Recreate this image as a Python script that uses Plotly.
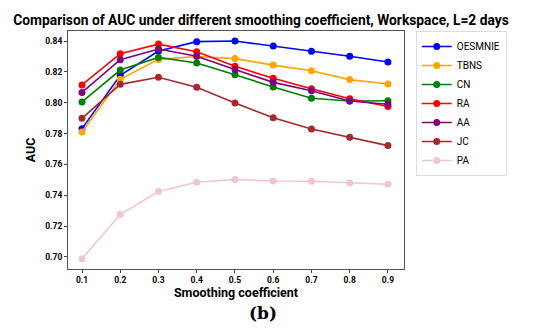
import plotly.graph_objects as go

x_vals = [0.1, 0.2, 0.3, 0.4, 0.5, 0.6, 0.7, 0.8, 0.9]
series_names = ["OESMNIE", "TBNS", "CN", "RA", "AA", "JC", "PA"]
oesmnie = [0.7832, 0.8178, 0.8335, 0.8396, 0.8400, 0.8368, 0.8333, 0.8301, 0.8264]
tbns = [0.7810, 0.8152, 0.8281, 0.8300, 0.8286, 0.8244, 0.8207, 0.8150, 0.8121]
cn = [0.8005, 0.8212, 0.8294, 0.8257, 0.8182, 0.8102, 0.8029, 0.8011, 0.8013]
ra = [0.8115, 0.8318, 0.8380, 0.8331, 0.8236, 0.8158, 0.8091, 0.8026, 0.7975]
aa = [0.8067, 0.8279, 0.8348, 0.8301, 0.8216, 0.8132, 0.8078, 0.8011, 0.7990]
jc = [0.7899, 0.8119, 0.8165, 0.8100, 0.7998, 0.7903, 0.7830, 0.7776, 0.7722]
pa = [0.6989, 0.7275, 0.7424, 0.7484, 0.7502, 0.7493, 0.7491, 0.7480, 0.7471]
series_values = [oesmnie, tbns, cn, ra, aa, jc, pa]
colors = ["#0000ff", "#ffa500", "#008000", "#ff0000", "#800080", "#a52a2a", "#f0c6cc"]
y_ticks = [0.70, 0.72, 0.74, 0.76, 0.78, 0.80, 0.82, 0.84]

FONT = "Roboto, DejaVu Sans"

fig = go.Figure()
for name, vals, col in zip(series_names, series_values, colors):
    fig.add_trace(go.Scatter(
        x=x_vals, y=vals, name=name, mode="lines+markers",
        line=dict(color=col, width=1.6),
        marker=dict(color=col, size=7),
    ))

fig.update_layout(
    width=550, height=331,
    paper_bgcolor="white", plot_bgcolor="white",
    margin=dict(l=68, r=146, t=31, b=62),
    title=dict(text="<b>Comparison of AUC under different smoothing coefficient, Workspace, L=2 days</b>",
               x=261 / 550, xanchor="center", y=1 - 20 / 331, yanchor="middle",
               font=dict(family=FONT, size=13.8, color="black")),
    font=dict(family=FONT, color="black"),
    legend=dict(x=1.035, xanchor="left", y=1.0, yanchor="top",
                bordercolor="#dddddd", borderwidth=1,
                font=dict(family=FONT, size=10, color="black"),
                itemwidth=30),
    xaxis=dict(range=[0.0634, 0.942], tickvals=x_vals,
               ticktext=[f"<b>{v:.1f}</b>" for v in x_vals],
               tickfont=dict(size=8.5), ticks="outside", ticklen=3, tickcolor="#444",
               showline=True, linecolor="#555", linewidth=1, mirror=True,
               showgrid=False, zeroline=False,
               title=dict(text="<b>Smoothing coefficient</b>", font=dict(size=12.5), standoff=0)),
    yaxis=dict(range=[0.6922, 0.8465], tickvals=y_ticks,
               ticktext=[f"<b>{v:.2f}</b>" for v in y_ticks],
               tickfont=dict(size=8.5), ticks="outside", ticklen=3, tickcolor="#444",
               showline=True, linecolor="#555", linewidth=1, mirror=True,
               showgrid=False, zeroline=False,
               title=dict(text="<b>AUC</b>", font=dict(size=12.5), standoff=6)),
    annotations=[dict(text="<b>(b)</b>", x=(263 - 68) / 336, y=-(313 - 269) / 238,
                      xref="paper", yref="paper", showarrow=False,
                      font=dict(family="DejaVu Serif, Liberation Serif", size=17, color="black"),
                      yanchor="middle", xanchor="center")],
)
fig.write_html("out.html", post_script="document.body.style.margin='0';",
               config={"displayModeBar": False})
